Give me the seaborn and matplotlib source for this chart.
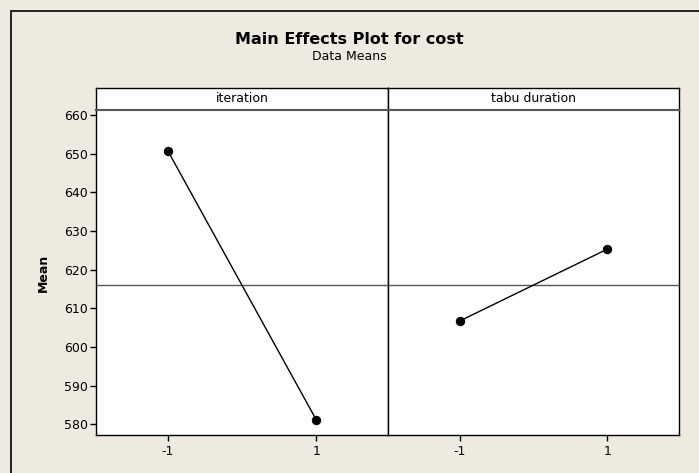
import matplotlib
matplotlib.use("Agg")
import matplotlib.pyplot as plt
from matplotlib.lines import Line2D
import seaborn as sns
import pandas as pd

# Factor levels and mean cost at each level
levels = [-1, 1]
iteration_means = [650.7, 581.2]
tabu_means = [606.7, 625.3]
factors = ["iteration", "tabu duration"]
y_ticks = [580, 590, 600, 610, 620, 630, 640, 650, 660]

grand_mean = (sum(iteration_means) + sum(tabu_means)) / 4

df = pd.DataFrame({
    "factor": [factors[0]] * 2 + [factors[1]] * 2,
    "level": levels + levels,
    "mean": iteration_means + tabu_means,
})

sns.set_theme(style="white")
plt.rcParams["font.family"] = ["DejaVu Sans"]
plt.rcParams["text.color"] = "black"
plt.rcParams["xtick.color"] = "black"
plt.rcParams["ytick.color"] = "black"
plt.rcParams["axes.labelcolor"] = "black"

W, H = 699, 473
bg = "#EEEAE0"
fig = plt.figure(figsize=(W / 100, H / 100), dpi=100, facecolor=bg)

def fx(px):
    return px / W

def fy(py):
    return 1 - py / H

# outer frame (top and left edges)
fig.add_artist(Line2D([fx(11), fx(11)], [0, fy(11)], color="black", lw=1.2,
                      transform=fig.transFigure))
fig.add_artist(Line2D([fx(11), 1], [fy(11), fy(11)], color="black", lw=1.2,
                      transform=fig.transFigure))

fig.text(0.5, fy(40), "Main Effects Plot for cost", ha="center", va="center",
         fontsize=11.5, fontweight="bold")
fig.text(0.5, fy(57), "Data Means", ha="center", va="center", fontsize=9)

panel_x = [(96, 388), (388, 679)]
plot_top, plot_bot, strip_top = 110, 435, 88
ylim = (577.2, 661.3)
xlim = (-1.97, 1.97)

axes = []
for i, (x0, x1) in enumerate(panel_x):
    ax = fig.add_axes([fx(x0), fy(plot_bot), fx(x1 - x0), fy(plot_top) - fy(plot_bot)])
    sub = df[df["factor"] == factors[i]]
    ax.axhline(grand_mean, color="#555555", lw=1.0, zorder=1)
    sns.lineplot(data=sub, x="level", y="mean", ax=ax, color="black", lw=1.0,
                 marker="o", markersize=6, markeredgecolor="black", zorder=3)
    ax.set_xlim(*xlim)
    ax.set_ylim(*ylim)
    ax.set_xticks(levels)
    ax.set_xticklabels([str(v) for v in levels], fontsize=9)
    ax.set_xlabel("")
    ax.set_ylabel("")
    ax.set_facecolor("white")
    for s in ax.spines.values():
        s.set_color("black")
        s.set_linewidth(1.0)
    ax.spines["top"].set_visible(False)
    ax.tick_params(axis="x", direction="out", length=4, width=1, color="black",
                   pad=3, bottom=True)
    if i == 0:
        ax.set_yticks(y_ticks)
        ax.set_yticklabels([str(v) for v in y_ticks], fontsize=9)
        ax.tick_params(axis="y", direction="out", length=4, width=1, color="black",
                       pad=2, left=True)
    else:
        ax.set_yticks([])
    # strip header
    sax = fig.add_axes([fx(x0), fy(plot_top), fx(x1 - x0), fy(strip_top) - fy(plot_top)])
    sax.set_facecolor("white")
    sax.set_xticks([])
    sax.set_yticks([])
    for s in sax.spines.values():
        s.set_color("black")
        s.set_linewidth(1.0)
    sax.spines["bottom"].set_color("#555555")
    sax.spines["bottom"].set_linewidth(1.5)
    sax.text(0.5, 0.5, factors[i], ha="center", va="center", fontsize=9,
             transform=sax.transAxes)
    axes.append(ax)

fig.text(fx(43), (fy(plot_top) + fy(plot_bot)) / 2, "Mean", rotation=90,
         ha="center", va="center", fontsize=9, fontweight="bold")

fig.savefig("out.png", dpi=100, facecolor=bg)
